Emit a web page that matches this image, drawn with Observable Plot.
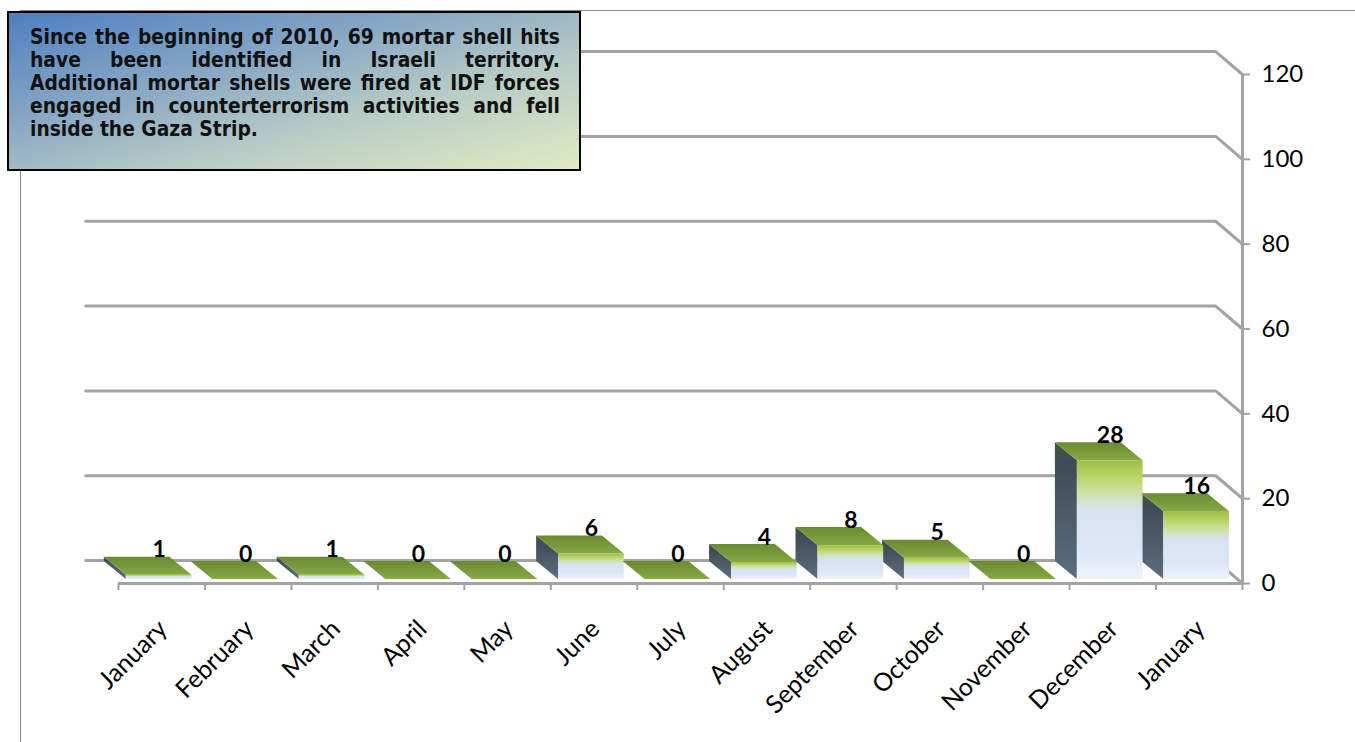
<!DOCTYPE html>
<html>
<head>
<meta charset="utf-8">
<script src="https://cdn.jsdelivr.net/npm/d3@7"></script>
<script src="https://cdn.jsdelivr.net/npm/@observablehq/plot@0.6"></script>
<style>
  html, body { margin: 0; padding: 0; background: #fff; }
  #wrap { position: relative; width: 1355px; height: 742px; overflow: hidden; }
  #chart { position: absolute; left: 0; top: 0; }
  #frame { position: absolute; left: 20px; top: 10px; width: 1400px; height: 800px;
           border: 1.5px solid #8a8a8a; box-sizing: border-box; }
  #note { position: absolute; left: 7px; top: 11px; width: 574px; height: 160px;
          box-sizing: border-box; border: 2px solid #000;
          background: linear-gradient(165deg, #4e7fc0 0%, #86a6c4 35%, #b9cdc6 65%, #e0eac2 100%);
          padding: 13px 19px 0 21px;
          font: bold 20.8px/23px "DejaVu Sans Condensed", "DejaVu Sans", sans-serif;
          color: #111; }
  .ln { display: flex; justify-content: space-between; white-space: nowrap; }
  .ln.last { justify-content: flex-start; }
</style>
</head>
<body>
<div id="wrap">
  <div id="frame"></div>
  <div id="chart"></div>
  <div id="note"></div>
</div>
<script>
// Monthly mortar shell hits, January 2010 – January 2011
const months = ["January", "February", "March", "April", "May", "June", "July",
                "August", "September", "October", "November", "December", "January"];
const hits = [1, 0, 1, 0, 0, 6, 0, 4, 8, 5, 0, 28, 16];
const yTicks = [0, 20, 40, 60, 80, 100, 120];
const noteLines = [
  "Since the beginning of 2010, 69 mortar shell hits",
  "have been identified in Israeli territory.",
  "Additional mortar shells were fired at IDF forces",
  "engaged in counterterrorism activities and fell",
  "inside the Gaza Strip."
];

// Oblique "3-D" projection expressed in data units
const BASE = 0.94;      // bar front plane sits slightly behind the axis plane
const DX = -0.254;      // bar depth, x
const DY = 4.24;        // bar depth, y
const L = 0.09, R = 0.85; // bar front face within its category slot
const WALL_DX = -0.31, WALL_DY = 5.4; // back wall offset

const bars = hits.map((v, i) => ({i, v, month: months[i]}));

const sides = bars.flatMap(d => [
  {i: d.i, x: d.i + L + DX, y1: BASE + DY, y2: BASE + DY + d.v},
  {i: d.i, x: d.i + L, y1: BASE, y2: BASE + d.v}
]);
const tops = bars.flatMap(d => [
  {i: d.i, y: BASE + DY + d.v, x1: d.i + L + DX, x2: d.i + R + DX},
  {i: d.i, y: BASE + d.v, x1: d.i + L, x2: d.i + R}
]);
const grid = yTicks.flatMap(v => [
  {v, x: -0.38, y: v + WALL_DY},
  {v, x: 13 + WALL_DX, y: v + WALL_DY},
  {v, x: 13, y: v}
]);

const GREY = "#a3a3a3";

const chart = Plot.plot({
  width: 1355,
  height: 742,
  marginLeft: 118,
  marginRight: 113,
  marginTop: 74,
  marginBottom: 159,
  style: {fontFamily: "Lato, 'Open Sans', sans-serif", color: "#000", background: "transparent"},
  x: {type: "linear", domain: [0, 13]},
  y: {domain: [0, 120]},
  marks: [
    // back wall gridlines folding onto the front value axis
    Plot.line(grid, {x: "x", y: "y", z: "v", stroke: GREY, strokeWidth: 3, strokeLinejoin: "miter"}),
    // axes lines
    Plot.ruleY([0], {x1: 0, x2: 13, stroke: GREY, strokeWidth: 3}),
    Plot.ruleX([13], {y1: 0, y2: 120, stroke: GREY, strokeWidth: 3}),
    Plot.axisX({ticks: d3.range(14), tickFormat: () => "", tickSize: 7, stroke: GREY, strokeWidth: 2, label: null}),
    Plot.axisY({anchor: "right", ticks: yTicks, tickSize: 7, tickPadding: 12, fontSize: 24,
                stroke: GREY, strokeWidth: 2, label: null, fill: "#000"}),
    // column side faces, front faces and tops
    Plot.areaY(sides, {x: "x", y1: "y1", y2: "y2", z: "i", fill: "url(#sideGrad)"}),
    Plot.rect(bars, {x1: d => d.i + L, x2: d => d.i + R, y1: BASE, y2: d => d.v + BASE, fill: "url(#frontGrad)"}),
    Plot.areaX(tops, {y: "y", x1: "x1", x2: "x2", z: "i", fill: "url(#topGrad)"}),
    // value labels
    Plot.text(bars, {x: d => d.i + 0.47, y: d => d.v + BASE + DY, text: d => String(d.v),
                     lineAnchor: "bottom", fontSize: 23, fontWeight: "bold", fill: "#000"}),
    // month labels
    Plot.text(bars, {x: d => d.i + 0.5, y: 0, text: "month", rotate: -45, textAnchor: "end",
                     lineAnchor: "bottom", dx: 7, dy: 47, fontSize: 25, fill: "#000"})
  ]
});

// gradients for the column faces
const defs = d3.select(chart).insert("defs", ":first-child");
function grad(id, stops, x2 = 0, y2 = 1) {
  const g = defs.append("linearGradient").attr("id", id)
    .attr("x1", 0).attr("y1", 0).attr("x2", x2).attr("y2", y2);
  for (const [o, c] of stops) g.append("stop").attr("offset", o).attr("stop-color", c);
}
grad("frontGrad", [[0, "#9cbf46"], [0.12, "#b4d262"], [0.26, "#cfe0a0"], [0.42, "#d8e3f1"], [0.75, "#dce6f6"], [1, "#eff3fb"]]);
grad("topGrad", [[0, "#6a8a30"], [1, "#86a845"]]);
grad("sideGrad", [[0, "#48573f"], [0.15, "#3f4b56"], [1, "#5d6d7e"]]);

document.getElementById("chart").appendChild(chart);

// annotation box with justified lines
const note = d3.select("#note");
noteLines.forEach((line, k) => {
  const div = note.append("div").attr("class", k === noteLines.length - 1 ? "ln last" : "ln");
  const words = line.split(" ");
  words.forEach((w, j) => div.append("span").text(k === noteLines.length - 1 && j < words.length - 1 ? w + "\u00a0" : w));
});
</script>
</body>
</html>
